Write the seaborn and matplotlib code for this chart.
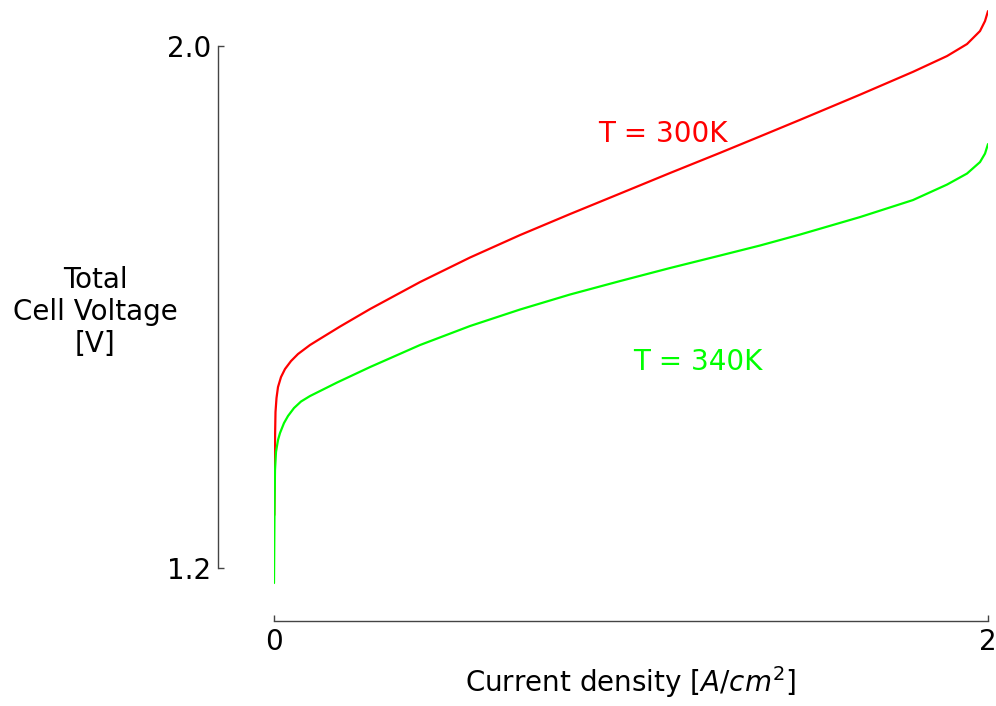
import matplotlib
matplotlib.use("Agg")
import matplotlib.pyplot as plt
import seaborn as sns
import pandas as pd

# Current density [A/cm^2] and cell voltage [V]
i_300 = [0.00084, 0.00168, 0.0028, 0.0042, 0.0070, 0.0112, 0.0196, 0.0308, 0.0476,
         0.0672, 0.1008, 0.1232, 0.1849, 0.2689, 0.4090, 0.5490, 0.6891, 0.8291,
         0.9692, 1.1092, 1.2493, 1.3613, 1.4734, 1.6415, 1.7899, 1.8852, 1.9412,
         1.9776, 1.9916, 2.0]
v_300 = [1.2812, 1.3349, 1.3962, 1.4391, 1.4605, 1.4774, 1.4927, 1.5050, 1.5172,
         1.5280, 1.5418, 1.5494, 1.5701, 1.5969, 1.6383, 1.6759, 1.7103, 1.7425,
         1.7739, 1.8054, 1.8363, 1.8615, 1.8869, 1.9255, 1.9605, 1.9847, 2.0031,
         2.0230, 2.0383, 2.0536]

i_340 = [0.0, 0.00084, 0.00168, 0.0028, 0.0056, 0.0112, 0.0168, 0.0280, 0.0392,
         0.0560, 0.0756, 0.1008, 0.1513, 0.1765, 0.2689, 0.4090, 0.5490, 0.6891,
         0.8291, 0.9692, 1.1092, 1.2493, 1.3613, 1.4734, 1.6415, 1.7899, 1.8852,
         1.9412, 1.9776, 1.9916, 2.0]
v_340 = [1.1770, 1.2429, 1.3042, 1.3502, 1.3778, 1.3962, 1.4069, 1.4222, 1.4330,
         1.4452, 1.4552, 1.4636, 1.4774, 1.4843, 1.5080, 1.5418, 1.5709, 1.5962,
         1.6192, 1.6398, 1.6598, 1.6789, 1.6943, 1.7111, 1.7379, 1.7640, 1.7877,
         1.8046, 1.8222, 1.8352, 1.8498]

labels = ["T = 300K", "T = 340K"]
colors = ["#ff0000", "#00ff00"]
x_ticks = [0, 2]
y_ticks = [1.2, 2.0]

sns.set_style("ticks", {"axes.edgecolor": "#444444",
                        "xtick.color": "#444444", "ytick.color": "#444444",
                        "text.color": "black", "axes.labelcolor": "black"})
plt.rcParams['font.family'] = ['DejaVu Sans']

fig = plt.figure(figsize=(9.96, 7.06), dpi=100)
ax = fig.add_axes([274/996, 0.1677, 714/996, 0.8225])

df300 = pd.DataFrame({"i": i_300, "v": v_300})
df340 = pd.DataFrame({"i": i_340, "v": v_340})
sns.lineplot(data=df300, x="i", y="v", color=colors[0], lw=1.6, ax=ax)
sns.lineplot(data=df340, x="i", y="v", color=colors[1], lw=1.6, ax=ax)

ax.set_xlim(0, 2)
ax.set_ylim(1.17, 2.06)
ax.set_xticks(x_ticks)
ax.set_xticklabels(["0", "2"])
ax.set_yticks(y_ticks)
ax.set_yticklabels(["1.2", "2.0"])
ax.tick_params(direction="in", length=4.5, width=1, labelsize=20, pad=5,
               colors="#444444", labelcolor="black")

for s in ["top", "right"]:
    ax.spines[s].set_visible(False)
ax.spines["left"].set_position(("outward", 40.3))
ax.spines["bottom"].set_position(("outward", 24))
ax.spines["left"].set_bounds(1.2, 2.0)
ax.spines["bottom"].set_bounds(0, 2)
for s in ["left", "bottom"]:
    ax.spines[s].set_linewidth(1)

ax.text(1.090, 1.865, labels[0], color=colors[0], fontsize=20, ha="center", va="center")
ax.text(1.188, 1.516, labels[1], color=colors[1], fontsize=20, ha="center", va="center")

ax.set_xlabel(r"Current density [$A/cm^2$]", fontsize=20, labelpad=6, color="black")
ax.set_ylabel("Total\nCell Voltage\n[V]", fontsize=20, rotation=0,
              ha="center", va="center", linespacing=1.2, color="black")
ax.yaxis.set_label_coords(-0.2507, 0.4746)

fig.savefig("out.png", dpi=100)
